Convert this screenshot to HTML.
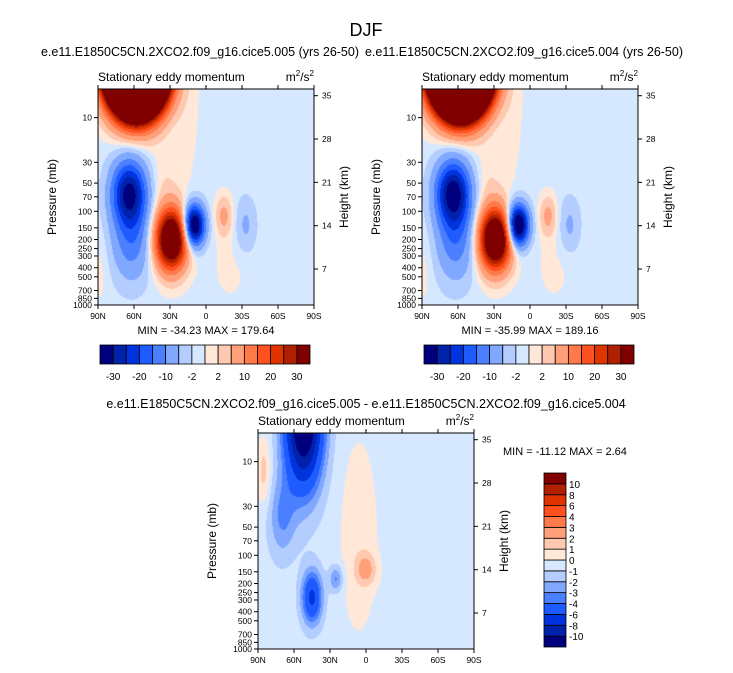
<!DOCTYPE html>
<html><head><meta charset="utf-8"><style>
body{margin:0;background:#fff;}
#root{position:relative;width:733px;height:673px;overflow:hidden;font-family:"Liberation Sans",sans-serif;}
canvas{position:absolute;}
svg{position:absolute;left:0;top:0;}
</style></head><body>
<div id="root">
<canvas id="c1" width="216" height="216" style="left:98px;top:89px"></canvas>
<canvas id="c2" width="216" height="216" style="left:422px;top:89px"></canvas>
<canvas id="c3" width="216" height="216" style="left:258px;top:433px"></canvas>
<svg id="s" width="733" height="673"></svg>
</div>
<script>
// ---- data ----
const latTicks = ["90N","60N","30N","0","30S","60S","90S"];
const latTickVals = [90,60,30,0,-30,-60,-90];
const presTicks = [10,30,50,70,100,150,200,250,300,400,500,700,850,1000];
const heightTicks = [35,28,21,14,7];
const levelsAbs = [-30,-25,-20,-15,-10,-5,-2,0,2,5,10,15,20,25,30];
const levelsAbsLabels = ["-30","-20","-10","-2","2","10","20","30"];
const levelsDiff = [-10,-8,-6,-4,-3,-2,-1,0,1,2,3,4,6,8,10];
const colors = ["#00007f","#0022aa","#0033dd","#1f5cff","#4a80ff","#80a8ff","#b3cdff","#d6e8ff","#ffe8d8","#ffc8b0","#ffa07a","#ff7a48","#ff5020","#e03400","#b02000","#800000"];
// features: [lat, log10(p), amplitude, latWidth, logpWidth]
const blobs1Lat = [58,64,62,29,35,10,-15,-33,15,88,-20];
const blobs1Lp  = [0.4,1.8,2.3,2.3,1.7,2.15,2.05,2.15,1.0,2.6,2.6];
const blobs1Amp = [420,-30,-12,50,2.5,-40,7,-5,1.2,1.5,1.2];
const blobs1Sl  = [14,10,11,9,9,6,5,6,8,5,12];
const blobs1Sp  = [0.3,0.24,0.3,0.22,0.25,0.15,0.15,0.2,0.6,0.3,0.3];
const base1 = -0.8;
const blobs2Amp = [440,-32,-12,52,2.5,-42,7,-5,1.2,1.5,1.2];
const min1="-34.23", max1="179.64", min2="-35.99", max2="189.16", min3="-11.12", max3="2.64";
const blobs3Lat = [52,70,85,45,25,0,6];
const blobs3Lp  = [0.55,1.6,1.1,2.45,2.25,2.15,1.8];
const blobs3Amp = [-13,-2.5,2,-6,-2.8,2.5,1.1];
const blobs3Sl  = [11,8,4,6,4,6,12];
const blobs3Sp  = [0.5,0.3,0.25,0.2,0.1,0.12,0.8];
const base3 = -0.5;

const W=216,H=216;
const lpTop = 1-28.7/94, lpBot = 3;
function xOfLat(l){return (90-l)/180*W;}
function yOfLp(lp){return (lp-lpTop)/(lpBot-lpTop)*H;}
function yOfHeight(h){return 6.7+(35-h)*6.19;}
function field(lat,lp,la,lpa,am,sl,sp,base){
  let v=base;
  for(let i=0;i<la.length;i++){const a=(lat-la[i])/sl[i],b=(lp-lpa[i])/sp[i];v+=am[i]*Math.exp(-(a*a+b*b)/2);}
  return v;
}
function hex(c){return [parseInt(c.substr(1,2),16),parseInt(c.substr(3,2),16),parseInt(c.substr(5,2),16)];}
function draw(id,la,lpa,am,sl,sp,base,levels){
  const cv=document.getElementById(id),ctx=cv.getContext('2d'),img=ctx.createImageData(W,H);
  for(let y=0;y<H;y++){const lp=lpTop+(y+0.5)/H*(lpBot-lpTop);
    for(let x=0;x<W;x++){const lat=90-(x+0.5)/W*180;
      const v=field(lat,lp,la,lpa,am,sl,sp,base);
      let k=0;while(k<levels.length&&v>levels[k])k++;
      const c=hex(colors[k]),o=(y*W+x)*4;img.data[o]=c[0];img.data[o+1]=c[1];img.data[o+2]=c[2];img.data[o+3]=255;}}
  ctx.putImageData(img,0,0);
}
draw('c1',blobs1Lat,blobs1Lp,blobs1Amp,blobs1Sl,blobs1Sp,base1,levelsAbs);
draw('c2',blobs1Lat,blobs1Lp,blobs2Amp,blobs1Sl,blobs1Sp,base1,levelsAbs);
draw('c3',blobs3Lat,blobs3Lp,blobs3Amp,blobs3Sl,blobs3Sp,base3,levelsDiff);

const S=document.getElementById('s'),NS="http://www.w3.org/2000/svg";
function el(t,a,txt){const e=document.createElementNS(NS,t);for(const k in a)e.setAttribute(k,a[k]);if(txt!==undefined)e.textContent=txt;S.appendChild(e);return e;}
function txt(x,y,s,size,anchor,name,extra){const e=el('text',Object.assign({x:x,y:y,'font-size':size,'text-anchor':anchor||'start',fill:'#000'},extra||{}),s);

return e;}
function axes(ox,oy,title,minv,maxv,pfx,minx,miny,mAnchor){
  const r=el('rect',{x:ox,y:oy,width:W,height:H,fill:'none',stroke:'#000','stroke-width':1});
  
  
  txt(ox,oy-8,'Stationary eddy momentum',12,'start',pfx+'-subtitle');
  const u=txt(ox+W,oy-8,'',12,'end',pfx+'-units');
  u.innerHTML='m<tspan dy="-5" font-size="8">2</tspan><tspan dy="5">/s</tspan><tspan dy="-5" font-size="8">2</tspan>';
  latTickVals.forEach((l,i)=>{const x=ox+xOfLat(l);
    el('line',{x1:x,y1:oy+H,x2:x,y2:oy+H+4,stroke:'#000'});
    el('line',{x1:x,y1:oy,x2:x,y2:oy-4,stroke:'#000'});
    txt(x,oy+H+14,latTicks[i],8.5,'middle',pfx+'-x-tick-label');});
  presTicks.forEach(p=>{const y=oy+yOfLp(Math.log10(p));
    el('line',{x1:ox,y1:y,x2:ox-4,y2:y,stroke:'#000'});
    txt(ox-6,y+3,String(p),8.5,'end',pfx+'-y-tick-label');});
  heightTicks.forEach(h=>{const y=oy+yOfHeight(h);
    el('line',{x1:ox+W,y1:y,x2:ox+W+4,y2:y,stroke:'#000'});
    txt(ox+W+8,y+3,String(h),8.5,'start',pfx+'-right-tick-label');});
  txt(0,0,'Pressure (mb)',12,'middle',pfx+'-y-axis-title',{transform:`translate(${ox-42},${oy+H/2}) rotate(-90)`});
  txt(0,0,'Height (km)',12,'middle',pfx+'-right-axis-title',{transform:`translate(${ox+W+34},${oy+H/2}) rotate(-90)`});
  if(title)txt(ox+W/2-6,oy-33,title,12.5,'middle',pfx+'-title');
  txt(minx,miny,'MIN = '+minv+'  MAX = '+maxv,11,mAnchor,pfx+'-min-max',{'xml:space':'preserve'});
}
txt(366,36,'DJF',18,'middle','figure-title');
axes(98,89,'e.e11.E1850C5CN.2XCO2.f09_g16.cice5.005 (yrs 26-50)',min1,max1,'panel1',206,334,'middle');
axes(422,89,'e.e11.E1850C5CN.2XCO2.f09_g16.cice5.004 (yrs 26-50)',min2,max2,'panel2',530,334,'middle');
axes(258,433,'',min3,max3,'panel3',503,455,'start');
txt(366,408,'e.e11.E1850C5CN.2XCO2.f09_g16.cice5.005 - e.e11.E1850C5CN.2XCO2.f09_g16.cice5.004',12.5,'middle','panel3-title');

function hbar(x0,pfx){const bw=210/16;
  colors.forEach((c,i)=>{const r=el('rect',{x:x0+i*bw,y:345,width:bw,height:19,fill:c,stroke:'#000','stroke-width':0.8});
    
    });
  levelsAbsLabels.forEach((s,j)=>txt(x0+(2*j+1)*bw,380,s,10,'middle',pfx+'-colorbar-label'));}
hbar(100,'panel1');hbar(424,'panel2');
(function(){const x0=544,y0=473,bh=174/16;
  colors.forEach((c,i)=>{const r=el('rect',{x:x0,y:y0+(15-i)*bh,width:22,height:bh,fill:c,stroke:'#000','stroke-width':0.8});
    
    });
  levelsDiff.forEach((v,i)=>txt(x0+25,y0+(15-i)*bh+4,String(v),10,'start','panel3-colorbar-label'));})();
</script>
</body></html>
